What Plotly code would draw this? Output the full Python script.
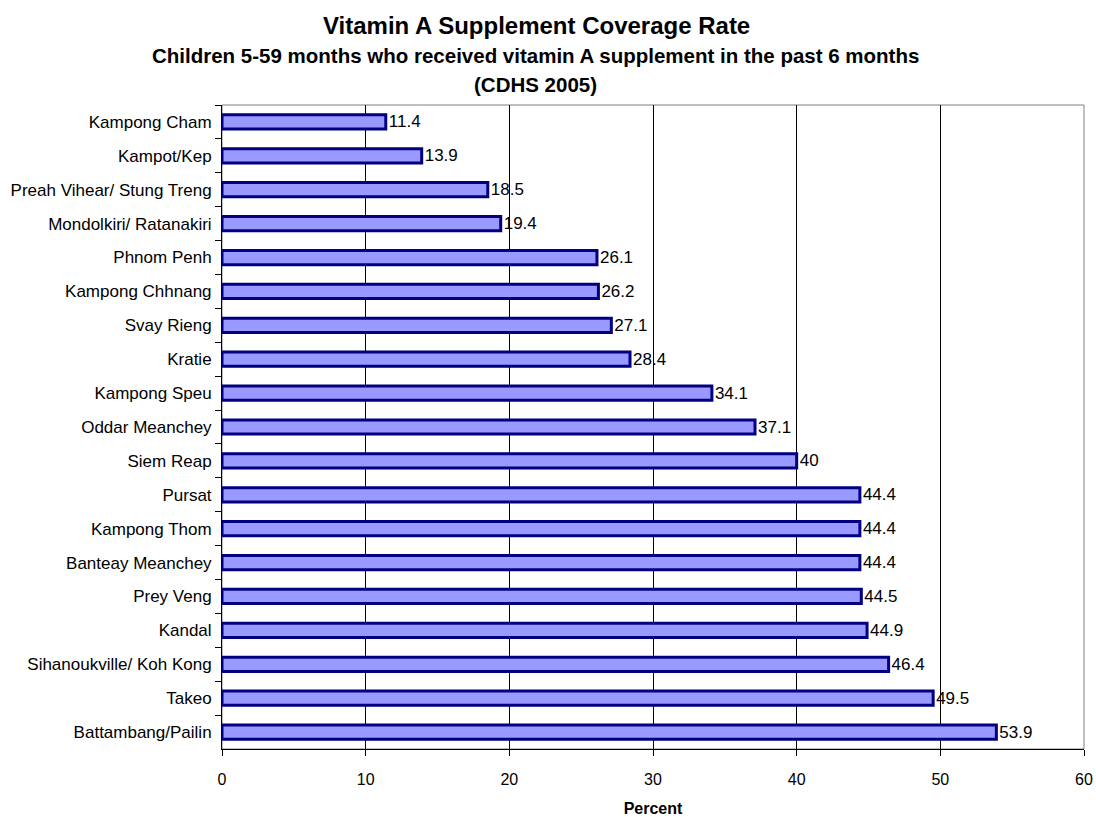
import plotly.graph_objects as go

# Provinces listed top to bottom, with coverage (%)
provinces = [
    "Kampong Cham", "Kampot/Kep", "Preah Vihear/ Stung Treng",
    "Mondolkiri/ Ratanakiri", "Phnom Penh", "Kampong Chhnang",
    "Svay Rieng", "Kratie", "Kampong Speu", "Oddar Meanchey",
    "Siem Reap", "Pursat", "Kampong Thom", "Banteay Meanchey",
    "Prey Veng", "Kandal", "Sihanoukville/ Koh Kong", "Takeo",
    "Battambang/Pailin",
]
coverage = [
    11.4, 13.9, 18.5, 19.4, 26.1, 26.2, 27.1, 28.4, 34.1, 37.1,
    40, 44.4, 44.4, 44.4, 44.5, 44.9, 46.4, 49.5, 53.9,
]
x_ticks = [0, 10, 20, 30, 40, 50, 60]

FONT = "Liberation Sans, Arial, sans-serif"

fig = go.Figure(
    go.Bar(
        y=provinces,
        x=coverage,
        orientation="h",
        width=0.42,
        marker=dict(color="#9999FF", line=dict(color="#000080", width=3)),
        text=[f"{v:g}" for v in coverage],
        textposition="outside",
        constraintext="none",
        textfont=dict(family=FONT, size=17, color="#000000"),
        cliponaxis=False,
        hoverinfo="x+y",
    )
)

fig.update_layout(
    width=1096,
    height=817,
    margin=dict(l=222, r=12, t=105, b=68, autoexpand=False),
    paper_bgcolor="white",
    plot_bgcolor="white",
    showlegend=False,
    font=dict(family=FONT, size=16, color="#000000"),
    xaxis=dict(
        range=[0, 60],
        tickvals=x_ticks,
        ticks="outside",
        ticklen=6,
        tickcolor="#000000",
        showgrid=True,
        gridcolor="#000000",
        gridwidth=1,
        showline=True,
        linecolor="#000000",
        linewidth=1,
        zeroline=False,
        automargin=False,
        ticklabelstandoff=10,
        tickfont=dict(family=FONT, size=16),
        title=dict(text="<b>Percent</b>", font=dict(family=FONT, size=16), standoff=20),
    ),
    yaxis=dict(
        autorange="reversed",
        ticks="outside",
        tickson="boundaries",
        ticklen=6,
        tickcolor="#000000",
        showgrid=False,
        showline=True,
        linecolor="#000000",
        linewidth=1,
        automargin=False,
        ticklabelstandoff=6,
        tickfont=dict(family=FONT, size=17),
    ),
    shapes=[
        dict(
            type="rect", xref="paper", yref="paper", x0=0, x1=1, y0=0, y1=1,
            line=dict(color="#808080", width=1), layer="below",
        )
    ],
    annotations=[
        dict(text="<b>Vitamin A Supplement Coverage Rate</b>", xref="paper", yref="paper",
             x=0.5, y=1, xshift=-117, yshift=80, yanchor="middle", showarrow=False,
             font=dict(family=FONT, size=24)),
        dict(text="<b>Children 5-59 months who received vitamin A supplement in the past 6 months</b>",
             xref="paper", yref="paper", x=0.5, y=1, xshift=-118, yshift=50, yanchor="middle",
             showarrow=False, font=dict(family=FONT, size=20.5)),
        dict(text="<b>(CDHS 2005)</b>", xref="paper", yref="paper",
             x=0.5, y=1, xshift=-118, yshift=21, yanchor="middle", showarrow=False,
             font=dict(family=FONT, size=20.5)),
    ],
)

fig.write_html("out.html")
